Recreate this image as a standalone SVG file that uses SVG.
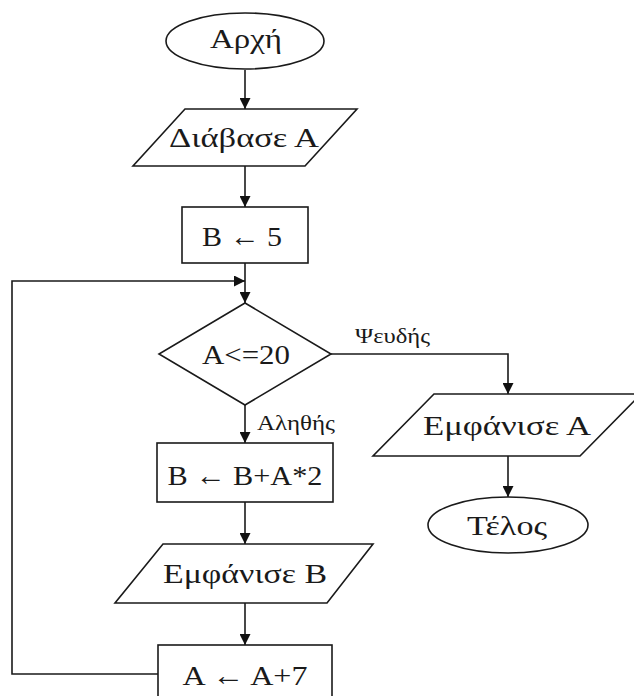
<svg xmlns="http://www.w3.org/2000/svg" width="634" height="696" viewBox="0 0 634 696">
<style>
.s{fill:#fff;stroke:#1a1a1a;stroke-width:1.6}
.t{font-family:"Liberation Serif","DejaVu Serif",serif;font-size:28px;fill:#1a1a1a;text-anchor:middle}
.l{font-family:"Liberation Serif","DejaVu Serif",serif;font-size:22px;fill:#1a1a1a}
.c{fill:none;stroke:#1a1a1a;stroke-width:1.6}
</style>
<defs>
<marker id="a" markerUnits="userSpaceOnUse" markerWidth="11" markerHeight="11" refX="11" refY="5.5" orient="auto">
<path d="M0,0 L11,5.5 L0,11 z" fill="#111"/>
</marker>
</defs>
<rect width="634" height="696" fill="#fff"/>
<g id="connectors">
<line class="c" x1="245" y1="70" x2="245" y2="109" marker-end="url(#a)"/>
<line class="c" x1="245" y1="166" x2="245" y2="207" marker-end="url(#a)"/>
<line class="c" x1="245" y1="263" x2="245" y2="303" marker-end="url(#a)"/>
<polyline class="c" points="158,674 12,674 12,281 245,281" marker-end="url(#a)"/>
<polyline class="c" points="331,354 508,354 508,394" marker-end="url(#a)"/>
<line class="c" x1="245" y1="405" x2="245" y2="443" marker-end="url(#a)"/>
<line class="c" x1="245" y1="502" x2="245" y2="544" marker-end="url(#a)"/>
<line class="c" x1="245" y1="603" x2="245" y2="645" marker-end="url(#a)"/>
<line class="c" x1="508" y1="456" x2="508" y2="497" marker-end="url(#a)"/>
<text class="l" x="355" y="343" textLength="75" lengthAdjust="spacingAndGlyphs">Ψευδής</text>
<text class="l" x="257" y="430" textLength="78" lengthAdjust="spacingAndGlyphs">Αληθής</text>
</g>
<g id="start">
<ellipse class="s" cx="245" cy="41" rx="79" ry="28"/>
<text class="t" x="246" y="48" textLength="72" lengthAdjust="spacingAndGlyphs">Αρχή</text>
</g>
<g id="readA">
<polygon class="s" points="185,109 357,109 305,166 133,166"/>
<text class="t" x="244" y="147" textLength="150" lengthAdjust="spacingAndGlyphs">Διάβασε Α</text>
</g>
<g id="setB">
<rect class="s" x="182" y="207" width="126" height="56"/>
<text class="t" x="242" y="246" textLength="80" lengthAdjust="spacingAndGlyphs">Β ← 5</text>
</g>
<g id="decision">
<polygon class="s" points="245,303 331,354 245,405 159,354"/>
<text class="t" x="246" y="364" textLength="88" lengthAdjust="spacingAndGlyphs">Α&lt;=20</text>
</g>
<g id="updateB">
<rect class="s" x="157" y="443" width="176" height="59"/>
<text class="t" x="245" y="485" textLength="155" lengthAdjust="spacingAndGlyphs">Β ← Β+Α*2</text>
</g>
<g id="printB">
<polygon class="s" points="163,544 373,544 327,603 115,603"/>
<text class="t" x="245" y="583" textLength="164" lengthAdjust="spacingAndGlyphs">Εμφάνισε Β</text>
</g>
<g id="updateA">
<rect class="s" x="158" y="645" width="174" height="58"/>
<text class="t" x="245" y="685" textLength="125" lengthAdjust="spacingAndGlyphs">Α ← Α+7</text>
</g>
<g id="printA">
<polygon class="s" points="434,394 641,394 580,456 373,456"/>
<text class="t" x="507" y="435" textLength="168" lengthAdjust="spacingAndGlyphs">Εμφάνισε Α</text>
</g>
<g id="end">
<ellipse class="s" cx="508" cy="525" rx="80" ry="28"/>
<text class="t" x="507" y="535" textLength="80" lengthAdjust="spacingAndGlyphs">Τέλος</text>
</g>
</svg>
